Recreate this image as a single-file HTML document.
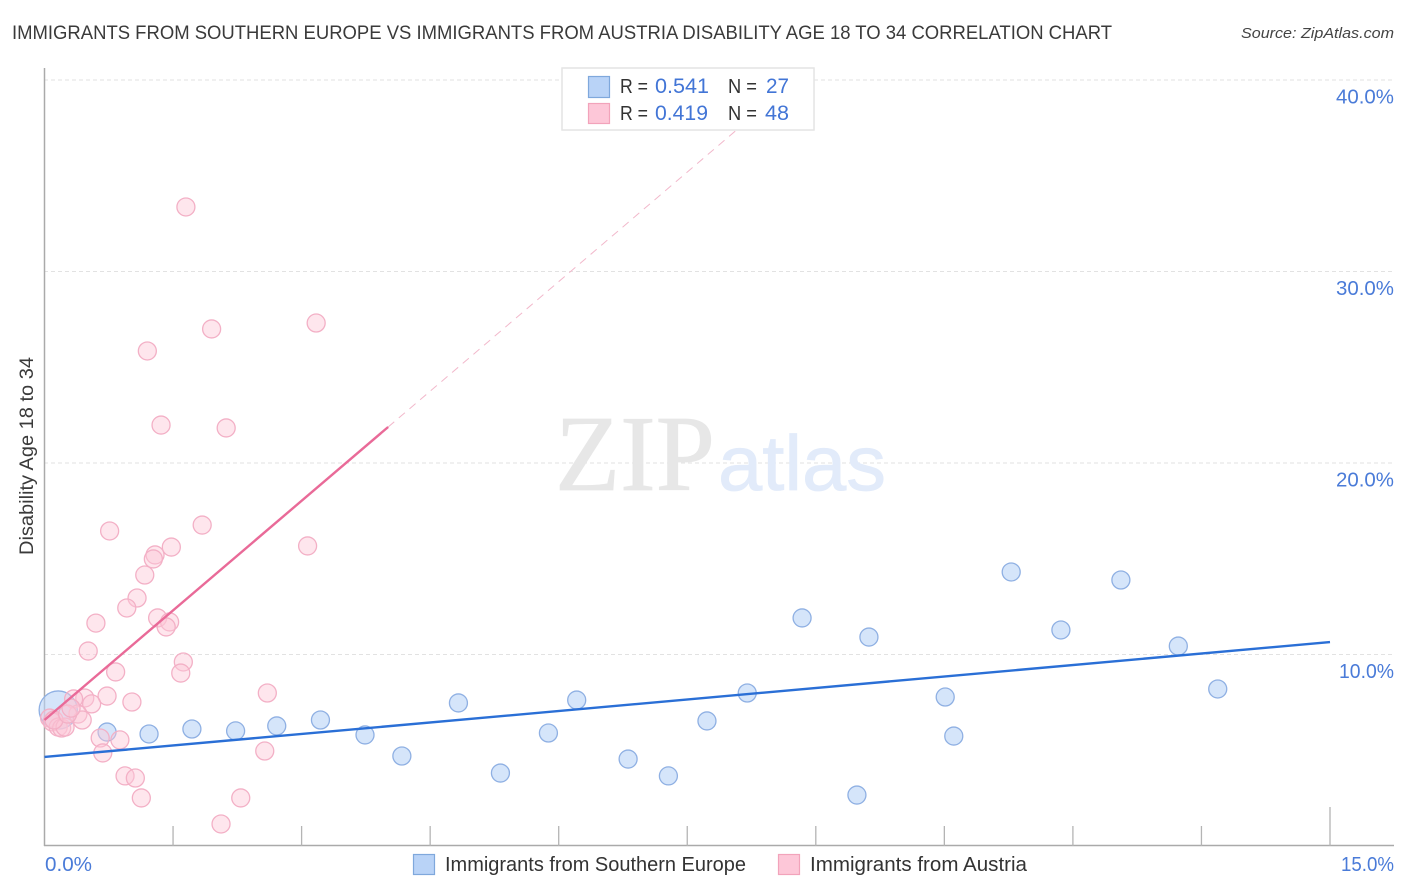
<!DOCTYPE html>
<html lang="en">
<head>
<meta charset="utf-8">
<title>Disability Age 18 to 34 Correlation Chart</title>
<style>
html,body{margin:0;padding:0;background:#fff;width:1406px;height:892px;overflow:hidden}
svg{display:block;font-family:"Liberation Sans",sans-serif}
</style>
</head>
<body>
<svg id="chart" width="1406" height="892" viewBox="0 0 1406 892" xmlns="http://www.w3.org/2000/svg">
  <rect x="0" y="0" width="1406" height="892" fill="#fff"/>
  <text x="12" y="39" font-size="19.5" fill="#3a3a3a" textLength="1100" lengthAdjust="spacingAndGlyphs">IMMIGRANTS FROM SOUTHERN EUROPE VS IMMIGRANTS FROM AUSTRIA DISABILITY AGE 18 TO 34 CORRELATION CHART</text>
  <text x="1241" y="38" font-size="15" font-style="italic" fill="#444" textLength="153" lengthAdjust="spacingAndGlyphs">Source: ZipAtlas.com</text>
  <g id="grid"></g>
  <g>
    <text x="555" y="490" font-family="'Liberation Serif',serif" font-size="108" fill="#e7e7e7" stroke="#e7e7e7" stroke-width="0.8" textLength="160" lengthAdjust="spacingAndGlyphs">ZIP</text>
    <text x="718" y="490" font-size="78" fill="#e2ebfa" stroke="#e2ebfa" stroke-width="0.8" textLength="168" lengthAdjust="spacingAndGlyphs">atlas</text>
  </g>
  <g id="axes"></g>
  <g id="blue-points"></g>
  <g id="pink-points"></g>
  <g id="trends"></g>
  <g id="tick-labels"></g>
  <text transform="translate(33,555) rotate(-90)" x="0" y="0" font-size="19" fill="#3a3a3a" textLength="198" lengthAdjust="spacingAndGlyphs">Disability Age 18 to 34</text>
  <g>
    <rect x="562" y="68" width="252" height="62" fill="#fff" stroke="#e4e4e4" stroke-width="1.5"/>
    <rect x="588.5" y="76.5" width="21" height="21" fill="#b9d3f7" stroke="#7fa8dc" stroke-width="1.2"/>
    <rect x="588.5" y="103.5" width="21" height="20" fill="#fdc7d8" stroke="#f2a3bb" stroke-width="1.2"/>
    <text x="620" y="93" font-size="20" fill="#333" textLength="28" lengthAdjust="spacingAndGlyphs">R =</text>
    <text x="655" y="93" font-size="21" fill="#4275d6" textLength="54" lengthAdjust="spacingAndGlyphs">0.541</text>
    <text x="728" y="93" font-size="20" fill="#333" textLength="29" lengthAdjust="spacingAndGlyphs">N =</text>
    <text x="766" y="93" font-size="21" fill="#4275d6" textLength="23" lengthAdjust="spacingAndGlyphs">27</text>
    <text x="620" y="120" font-size="20" fill="#333" textLength="28" lengthAdjust="spacingAndGlyphs">R =</text>
    <text x="655" y="120" font-size="21" fill="#4275d6" textLength="53" lengthAdjust="spacingAndGlyphs">0.419</text>
    <text x="728" y="120" font-size="20" fill="#333" textLength="29" lengthAdjust="spacingAndGlyphs">N =</text>
    <text x="765" y="120" font-size="21" fill="#4275d6" textLength="24" lengthAdjust="spacingAndGlyphs">48</text>
  </g>
  <g>
    <rect x="413.5" y="854.5" width="21" height="20" fill="#b9d3f7" stroke="#7fa8dc" stroke-width="1.2"/>
    <text x="445" y="871" font-size="20" fill="#333" textLength="301" lengthAdjust="spacingAndGlyphs">Immigrants from Southern Europe</text>
    <rect x="778.5" y="854.5" width="21" height="20" fill="#fdc7d8" stroke="#f2a3bb" stroke-width="1.2"/>
    <text x="810" y="871" font-size="20" fill="#333" textLength="217" lengthAdjust="spacingAndGlyphs">Immigrants from Austria</text>
  </g>
</svg>
<script>
const yTickValues = [10, 20, 30, 40];
const yTickLabels = ["10.0%", "20.0%", "30.0%", "40.0%"];
const xTickValues = [1.5, 3, 4.5, 6, 7.5, 9, 10.5, 12, 13.5, 15];
const xEndValues = [0, 15];
const xEndLabels = ["0.0%", "15.0%"];

const blueX = [0.16,0.73,1.22,1.72,2.23,2.71,3.22,3.74,4.17,4.83,5.32,5.88,6.21,6.81,7.28,7.73,8.20,8.84,9.48,9.62,10.51,10.61,11.28,11.86,12.56,13.23,13.69];
const blueY = [7.10,5.95,5.85,6.11,6.01,6.27,6.58,5.80,4.70,7.47,3.81,5.90,7.62,4.54,3.66,6.53,7.99,11.91,2.66,10.91,7.78,5.74,14.31,11.28,13.89,10.44,8.20];
const blueWeight = [4.5,1,1,1,1,1,1,1,1,1,1,1,1,1,1,1,1,1,1,1,1,1,1,1,1,1,1];

const pinkX = [1.65,1.95,3.17,1.20,1.36,2.12,0.76,1.84,3.07,1.48,1.29,1.27,1.17,1.08,0.96,1.32,1.46,1.42,0.60,0.51,1.62,1.59,0.83,2.60,0.73,1.02,0.47,0.55,0.34,0.39,0.44,0.65,0.88,0.68,2.57,0.94,1.06,1.13,2.29,2.06,0.06,0.09,0.16,0.20,0.24,0.11,0.27,0.31];
const pinkY = [33.37,27.00,27.31,25.85,21.98,21.83,16.45,16.76,15.67,15.61,15.20,14.99,14.15,12.95,12.43,11.91,11.70,11.44,11.64,10.18,9.61,9.03,9.09,7.99,7.83,7.52,7.73,7.42,7.68,6.89,6.58,5.64,5.54,4.86,4.96,3.66,3.55,2.51,2.51,1.15,6.68,6.48,6.21,6.16,6.21,6.58,6.89,7.20];

const blueTrendX = [0, 15];
const blueTrendY = [4.65, 10.65];
const pinkTrendX = [0, 4.01];
const pinkTrendY = [6.58, 21.88];
const pinkExtensionX = [4.01, 8.11];
const pinkExtensionY = [21.88, 37.52];

const NS = "http://www.w3.org/2000/svg";
const X0 = 44.5, XPX = 85.7, Y0 = 846, YPX = 19.15, BASE_R = 9;
function xScale(v) { return X0 + v * XPX; }
function yScale(v) { return Y0 - v * YPX; }
function make(tag, parentId, attrs, text) {
  const el = document.createElementNS(NS, tag);
  for (const k in attrs) el.setAttribute(k, attrs[k]);
  if (text !== undefined) el.textContent = text;
  document.getElementById(parentId).appendChild(el);
  return el;
}

yTickValues.forEach(function (v, i) {
  const line = make("line", "grid", { x1: 44, x2: 1394, y1: yScale(v), y2: yScale(v), stroke: "#e2e2e2", "stroke-width": 1, "stroke-dasharray": "4 3" });
  
  
  const label = make("text", "tick-labels", { x: 1394, y: yScale(v) + 23.5, "text-anchor": "end", "font-size": 20, fill: "#4a7bd8", textLength: v === 10 ? 55 : 58, lengthAdjust: "spacingAndGlyphs" }, yTickLabels[i]);
  
  
});

const yAxis = make("line", "axes", { x1: 44.5, x2: 44.5, y1: 68, y2: 846, stroke: "#aaa", "stroke-width": 1.5 });


const xAxis = make("line", "axes", { x1: 44, x2: 1394, y1: 845.5, y2: 845.5, stroke: "#aaa", "stroke-width": 1.5 });



xTickValues.forEach(function (v, i) {
  const isLast = i === xTickValues.length - 1;
  const tick = make("line", "axes", { x1: xScale(v), x2: xScale(v), y1: isLast ? 807 : 826, y2: 846, stroke: "#b4b4b4", "stroke-width": 1.3 });
  
  
});

xEndValues.forEach(function (v, i) {
  const first = i === 0;
  const label = make("text", "tick-labels", { x: first ? 45 : 1394, y: 871, "text-anchor": first ? "start" : "end", "font-size": 20, fill: "#4a7bd8", textLength: first ? 47 : 53, lengthAdjust: "spacingAndGlyphs" }, xEndLabels[i]);
  
  
});

blueX.forEach(function (v, i) {
  const dot = make("circle", "blue-points", { cx: xScale(v), cy: yScale(blueY[i]), r: BASE_R * Math.sqrt(blueWeight[i]), fill: "#b9d3f7", "fill-opacity": 0.6, stroke: "#8fb0e3", "stroke-width": 1.3 });
  
  
});

pinkX.forEach(function (v, i) {
  const dot = make("circle", "pink-points", { cx: xScale(v), cy: yScale(pinkY[i]), r: BASE_R, fill: "#fdc7d8", "fill-opacity": 0.45, stroke: "#f3b0c6", "stroke-width": 1.3 });
  
  
});

const pinkDash = make("line", "trends", { x1: xScale(pinkExtensionX[0]), y1: yScale(pinkExtensionY[0]), x2: xScale(pinkExtensionX[1]), y2: yScale(pinkExtensionY[1]), stroke: "#f2b8cb", "stroke-width": 1, "stroke-dasharray": "8 6" });


const pinkLine = make("line", "trends", { x1: xScale(pinkTrendX[0]), y1: yScale(pinkTrendY[0]), x2: xScale(pinkTrendX[1]), y2: yScale(pinkTrendY[1]), stroke: "#e96a98", "stroke-width": 2.4 });


const blueLine = make("line", "trends", { x1: xScale(blueTrendX[0]), y1: yScale(blueTrendY[0]), x2: xScale(blueTrendX[1]), y2: yScale(blueTrendY[1]), stroke: "#2a6fd6", "stroke-width": 2.4 });


</script>
</body>
</html>
